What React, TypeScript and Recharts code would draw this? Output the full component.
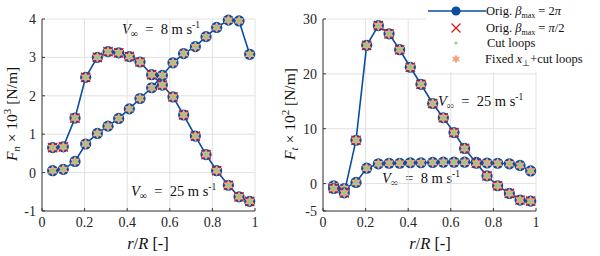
import { LineChart, Line, XAxis, YAxis, CartesianGrid, Legend } from "recharts";

const R_POS = [0.05, 0.1, 0.155, 0.205, 0.26, 0.31, 0.36, 0.41, 0.46, 0.515, 0.565, 0.615, 0.665, 0.72, 0.77, 0.82, 0.875, 0.925, 0.975];
const FN_V8 = [0.05, 0.085, 0.29, 0.745, 1.02, 1.21, 1.41, 1.66, 1.93, 2.21, 2.53, 2.86, 3.1, 3.28, 3.54, 3.78, 3.97, 3.95, 3.08];
const FN_V25 = [0.65, 0.67, 1.42, 2.48, 3.0, 3.15, 3.12, 3.02, 2.88, 2.55, 2.28, 1.97, 1.5, 0.95, 0.47, 0.05, -0.33, -0.63, -0.75];
const FT_V8 = [-0.4, -0.9, 0.2, 2.8, 3.6, 3.7, 3.7, 3.8, 3.8, 3.85, 3.9, 3.9, 3.9, 3.85, 3.75, 3.7, 3.6, 3.3, 2.3];
const FT_V25 = [-0.9, -1.7, 7.9, 25.2, 28.8, 27.3, 24.4, 21.2, 18.1, 14.6, 12.0, 9.3, 6.4, 3.7, 1.4, -0.4, -1.8, -3.0, -3.2];

const X_TICKS = [0, 0.2, 0.4, 0.6, 0.8, 1];
const FN_TICKS = [-1, 0, 1, 2, 3, 4];
const FT_TICKS = [-5, 0, 10, 20, 30];

const SERIF = "Liberation Serif";
const BLUE = "#0b4da1";
const RED = "#d7191c";
const ORANGE = "#f5a47e";
const GREEN = "#8dcf8a";
const AXIS = "#3a3a3a";
const GRID = "#e2e2e2";

const fnRows = R_POS.map((r, i) => ({ r, v8: FN_V8[i], v25: FN_V25[i] }));
const ftRows = R_POS.map((r, i) => ({ r, v8: FT_V8[i], v25: FT_V25[i] }));

// star of David = two overlapping triangles
const hexPath = (cx: number, cy: number, R: number) => {
  const tri = (start: number) =>
    [0, 1, 2]
      .map((k) => {
        const a = ((start + k * 120) * Math.PI) / 180;
        return `${k === 0 ? "M" : "L"}${cx + R * Math.cos(a)},${cy + R * Math.sin(a)}`;
      })
      .join(" ") + " Z";
  return tri(-90) + " " + tri(90);
};

const Marker = ({ cx, cy, cross }: { cx: number; cy: number; cross: boolean }) => (
  <g>
    <circle cx={cx} cy={cy} r={5.6} fill={BLUE} />
    {cross && (
      <path
        d={`M${cx - 4.6},${cy - 4.6} L${cx + 4.6},${cy + 4.6} M${cx - 4.6},${cy + 4.6} L${cx + 4.6},${cy - 4.6}`}
        stroke={RED}
        strokeWidth={1.4}
      />
    )}
    <path d={hexPath(cx, cy, 5.4)} fill={ORANGE} />
    <circle cx={cx} cy={cy} r={2.1} fill={GREEN} />
  </g>
);

const dotPlain = (p: any) => <Marker key={`a${p.index}`} cx={p.cx} cy={p.cy} cross={false} />;
const dotCross = (p: any) => <Marker key={`b${p.index}`} cx={p.cx} cy={p.cy} cross={true} />;

const tickStyle = { fontFamily: SERIF, fontSize: 14, fill: "#262626" };
const txt = { fontFamily: SERIF, whiteSpace: "pre" as const };

const SpeedText = ({ x, y, n }: { x: number; y: number; n: string }) => (
  <text x={x} y={y} fontSize={14.5} fill="#111" style={txt}>
    <tspan fontStyle="italic">V</tspan>
    <tspan fontSize={10} dy={3}>∞</tspan>
    <tspan dy={-3}>{`  =  ${n} m s`}</tspan>
    <tspan fontSize={9.5} dy={-6}>-1</tspan>
  </text>
);

const YLabel = ({ x, y, sub, pow }: { x: number; y: number; sub: string; pow: string }) => (
  <text
    x={0}
    y={0}
    transform={`translate(${x},${y}) rotate(-90)`}
    textAnchor="middle"
    fontSize={15.5}
    fill="#111"
    style={txt}
  >
    <tspan fontStyle="italic">F</tspan>
    <tspan fontSize={11} fontStyle="italic" dy={3}>{sub}</tspan>
    <tspan dy={-3}>{" × 10"}</tspan>
    <tspan fontSize={11} dy={-6}>{pow}</tspan>
    <tspan dy={6}>{" [N/m]"}</tspan>
  </text>
);

const XLabel = ({ x, y }: { x: number; y: number }) => (
  <text x={x} y={y} textAnchor="middle" fontSize={16.5} fill="#111" style={txt}>
    <tspan fontStyle="italic">r</tspan>
    <tspan>/</tspan>
    <tspan fontStyle="italic">R</tspan>
    <tspan>{" [-]"}</tspan>
  </text>
);

const LegendBox = () => (
  <svg width={174} height={72}>
    <rect x={0} y={0} width={174} height={72} fill="#fff" />
    <line x1={2} y1={11} x2={60} y2={11} stroke={BLUE} strokeWidth={1.6} />
    <circle cx={30} cy={11} r={4.6} fill={BLUE} />
    <path d="M25.5,23.5 L34.5,32.5 M25.5,32.5 L34.5,23.5" stroke={RED} strokeWidth={1.3} />
    <circle cx={30} cy={43} r={1.6} fill={GREEN} />
    <path d={hexPath(30, 59, 4.4)} fill={ORANGE} />
    <g fontSize={12.5} fill="#111" style={txt}>
      <text x={60} y={15} style={txt}>
        <tspan>{"Orig. "}</tspan>
        <tspan fontStyle="italic">β</tspan>
        <tspan fontSize={8} dy={2.5}>max</tspan>
        <tspan dy={-2.5}>{" = 2"}</tspan>
        <tspan fontStyle="italic">π</tspan>
      </text>
      <text x={60} y={32} style={txt}>
        <tspan>{"Orig. "}</tspan>
        <tspan fontStyle="italic">β</tspan>
        <tspan fontSize={8} dy={2.5}>max</tspan>
        <tspan dy={-2.5}>{" = "}</tspan>
        <tspan fontStyle="italic">π</tspan>
        <tspan>/2</tspan>
      </text>
      <text x={61} y={47} style={txt}>Cut loops</text>
      <text x={59} y={63} style={txt}>
        <tspan>{"Fixed "}</tspan>
        <tspan fontStyle="italic">x</tspan>
        <tspan fontSize={8.5} dy={2.5}>⊥</tspan>
        <tspan dy={-2.5}>+cut loops</tspan>
      </text>
    </g>
  </svg>
);

const axisCommon = {
  stroke: AXIS,
  tickSize: -3,
  tickMargin: 9,
  tick: tickStyle,
};

export default function App() {
  return (
    <div style={{ position: "absolute", left: 0, top: 0, width: 600, height: 256, background: "#fff", fontFamily: SERIF }}>
      <svg width={600} height={256} style={{ position: "absolute", left: 0, top: 0 }}>
        <SpeedText x={122} y={34} n="8" />
        <SpeedText x={131} y={196} n="25" />
        <SpeedText x={438} y={106} n="25" />
        <SpeedText x={382} y={183} n="8" />
        <YLabel x={17} y={114} sub="n" pow="3" />
        <YLabel x={295} y={114} sub="t" pow="2" />
        <XLabel x={148} y={249} />
        <XLabel x={430} y={249} />
      </svg>

      <div style={{ position: "absolute", left: 0, top: 0 }}>
        <LineChart width={270} height={256} data={fnRows} margin={{ top: 19, right: 15, bottom: 0, left: 0 }}>
          <CartesianGrid stroke={GRID} />
          <XAxis dataKey="r" type="number" domain={[0, 1]} ticks={X_TICKS} height={45} {...axisCommon} />
          <XAxis xAxisId="t" orientation="top" type="number" domain={[0, 1]} ticks={X_TICKS} height={0} stroke={AXIS} tickSize={-3} tick={false} />
          <YAxis type="number" domain={[-1, 4]} ticks={FN_TICKS} width={42} {...axisCommon} />
          <YAxis yAxisId="r" orientation="right" type="number" domain={[-1, 4]} ticks={FN_TICKS} width={0} stroke={AXIS} tickSize={-3} tick={false} />
          <Line dataKey="v8" stroke={BLUE} strokeWidth={1.6} dot={dotPlain} isAnimationActive={false} />
          <Line dataKey="v25" stroke={BLUE} strokeWidth={1.6} dot={dotCross} isAnimationActive={false} />
        </LineChart>
      </div>

      <div style={{ position: "absolute", left: 270, top: 0 }}>
        <LineChart width={330} height={256} data={ftRows} margin={{ top: 19, right: 64, bottom: 0, left: 0 }}>
          <CartesianGrid stroke={GRID} />
          <XAxis dataKey="r" type="number" domain={[0, 1]} ticks={X_TICKS} height={45} {...axisCommon} />
          <XAxis xAxisId="t" orientation="top" type="number" domain={[0, 1]} ticks={X_TICKS} height={0} stroke={AXIS} tickSize={-3} tick={false} />
          <YAxis type="number" domain={[-5, 30]} ticks={FT_TICKS} width={53} {...axisCommon} />
          <YAxis yAxisId="r" orientation="right" type="number" domain={[-5, 30]} ticks={FT_TICKS} width={0} stroke={AXIS} tickSize={-3} tick={false} />
          <Line dataKey="v8" stroke={BLUE} strokeWidth={1.6} dot={dotPlain} isAnimationActive={false} />
          <Line dataKey="v25" stroke={BLUE} strokeWidth={1.6} dot={dotCross} isAnimationActive={false} />
          <Legend
            layout="horizontal"
            verticalAlign="middle"
            align="center"
            content={() => <LegendBox />}
            wrapperStyle={{ position: "absolute", left: 156, top: 0, width: 174, height: 72 }}
          />
        </LineChart>
      </div>
    </div>
  );
}
